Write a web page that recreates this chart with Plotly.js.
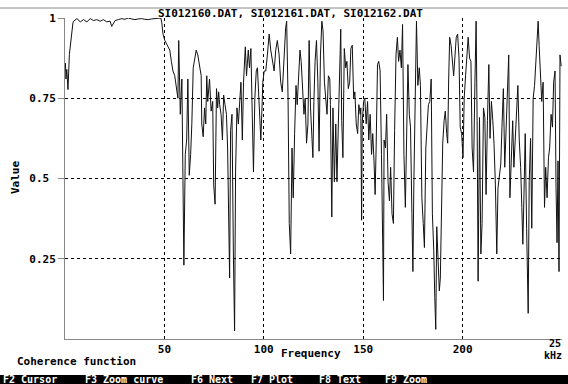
<!DOCTYPE html>
<html>
<head>
<meta charset="utf-8">
<script src="https://cdn.plot.ly/plotly-3.0.1.min.js"></script>
<style>html,body{margin:0;padding:0;background:#fff}#chart{width:568px;height:384px}</style>
</head>
<body>
<div id="chart"></div>
<script>
// Frequency (x) and coherence (y), split by 50-unit segments
const freqA = [0.2,0.5,0.9,1.5,2.2,3.2,4.0,4.3,6.0,7.7,9.3,11.0,12.7,14.3,16.0,17.7,19.3,21.0,22.7,23.5,25.2,26.8,28.5,30.2,31.8,33.5,35.2,36.8,38.5,40.2,41.8,43.5,45.2,46.8,48.2,48.7,49.3];
const cohA  = [0.86,0.81,0.84,0.777,0.886,0.95,0.985,0.99,0.998,0.988,0.995,0.988,0.998,0.992,0.995,0.99,0.995,0.988,0.99,0.974,0.992,0.995,0.998,0.996,1.0,0.997,0.995,0.997,0.998,0.996,0.995,0.997,0.998,0.997,1.0,0.985,0.95];

const freqB = [50.2,51,52.7,53.5,54.3,55.2,56,56.8,57.2,58,58.8,59.3,59.8,60.5,61.2,61.8,62.5,63.2,63.8,64.5,65.2,66,66.8,67.7,68.5,68.8,69.5,70.2,70.8,71.3,71.8,72.7,73.5,74.3,74.8,75.5,76.2,76.8,77.3,77.8,78.5,79.2,79.8,80.5,81.2,81.8,82.3,82.8,83.3,84,84.7,85.3,85.8,86.5,87.2,87.8,88.5,89.2,89.8,90.7,91.3,92.2,92.8,93.5,94.2,94.8,95.5,96.2,96.8,97.7,98.5,99.2];
const cohB  = [0.93,0.92,0.90,0.865,0.835,0.82,0.78,0.75,0.93,0.70,0.81,0.45,0.23,0.575,0.62,0.81,0.51,0.575,0.67,0.845,0.875,0.90,0.885,0.855,0.82,0.67,0.63,0.72,0.67,0.82,0.74,0.81,0.71,0.74,0.48,0.42,0.78,0.72,0.77,0.73,0.70,0.62,0.76,0.73,0.70,0.595,0.41,0.19,0.65,0.70,0.265,0.025,0.52,0.72,0.67,0.72,0.80,0.62,0.80,0.91,0.82,0.90,0.845,0.905,0.69,0.52,0.75,0.835,0.845,0.70,0.62,0.74];

const freqC = [99.5,100.2,101,101.8,102.7,103.5,104.3,105.2,106,106.8,107.7,108.5,109.3,110.2,111,111.5,112.2,112.8,113.5,114.2,114.8,115.5,116.2,116.8,117.5,118.2,118.8,119.5,120.2,120.8,121.5,122.2,122.8,123.5,124.2,124.7,125.2,125.8,126.5,127.2,127.8,128.5,129.2,129.8,130.5,131.2,131.8,132.5,133.2,133.5,134.2,134.8,135.5,136.2,136.8,137.5,138.2,138.7,139.2,139.8,140.5,141.2,141.8,142.5,143.2,143.8,144.5,145.2,145.8,146.5,147.2,147.8,148.5,148.8,149.2];
const cohC  = [0.80,0.835,0.835,0.885,0.95,0.90,0.865,0.835,0.90,0.93,0.885,0.80,0.77,0.885,0.97,0.99,0.75,0.36,0.265,0.595,0.44,0.64,0.79,0.73,0.835,0.90,0.865,0.77,0.70,0.75,0.61,0.67,0.93,0.72,0.62,0.565,0.74,0.865,0.93,0.80,0.585,0.885,0.99,0.96,0.80,0.75,0.70,0.82,0.81,0.73,0.38,0.72,0.49,0.67,0.49,0.67,0.92,0.965,0.68,0.565,0.905,0.845,0.865,0.78,0.80,0.905,0.915,0.75,0.77,0.67,0.64,0.73,0.70,0.72,0.37];

const freqD = [149.5,150.2,150.8,151.5,152.2,152.8,153.5,154.2,154.8,155.5,156,156.5,157.2,157.8,158.5,159.2,159.7,160.2,160.5,161.2,161.8,162.5,163.2,163.8,164.5,165.2,165.8,166.5,167.2,167.8,168.5,169.2,169.8,170.5,171.2,171.8,172.5,173.2,173.8,174.5,175,175.5,176.2,176.8,177.5,178.2,178.8,179.5,180.2,180.8,181.5,182.2,182.8,183.5,184.2,184.8,185.5,186,186.5,187,187.7,188.3,188.8,189.3,190,190.7,191.3,192,192.5,193,193.5,194.2,194.8,195.5,196.2,196.8,197.5,198.2,198.8];
const cohD  = [0.67,0.74,0.75,0.67,0.74,0.62,0.70,0.575,0.64,0.545,0.45,0.595,0.855,0.865,0.835,0.575,0.22,0.12,0.62,0.595,0.70,0.49,0.43,0.535,0.39,0.36,0.65,0.885,0.94,0.865,0.90,0.845,0.98,0.575,0.41,0.62,0.855,0.70,0.66,0.39,0.21,0.49,0.835,0.99,0.79,0.845,0.79,0.44,0.36,0.285,0.595,0.69,0.73,0.74,0.81,0.39,0.275,0.13,0.03,0.35,0.22,0.15,0.19,0.41,0.61,0.68,0.71,0.64,0.61,0.81,0.94,0.915,0.855,0.82,0.885,0.94,0.95,0.875,0.66];

const freqE = [199.5,200.2,200.8,201.5,202.2,202.8,203.5,204.2,204.8,205.5,206.2,206.8,207.3,207.8,208.5,209.2,209.8,210.5,211.2,211.8,212.5,213.2,213.8,214.5,215.2,215.8,216.5,217.2,217.8,218.5,219.2,219.8,220.5,221.2,221.8,222.5,223.2,223.8,224.5,225.2,225.8,226.5,227.2,227.8,228.5,229.2,229.8,230.3,230.8,231.5,232.2,232.7,233,233.5,234.2,234.8,235.5,236.2,236.8,237.5,238,238.5,239.2,239.8,240.5,241.2,241.8,242.5,243.2,243.8,244.5,245.2,245.8,246.5,247,247.5,248,248.5,249,249.6];
const cohE  = [0.64,0.565,0.75,0.82,0.875,0.94,0.875,0.865,0.595,0.52,0.80,0.99,0.68,0.18,0.69,0.265,0.36,0.72,0.69,0.45,0.68,0.855,0.625,0.74,0.68,0.61,0.48,0.265,0.47,0.50,0.545,0.66,0.78,0.535,0.65,0.76,0.885,0.44,0.595,0.68,0.535,0.62,0.72,0.79,0.62,0.535,0.41,0.295,0.43,0.64,0.345,0.12,0.08,0.49,0.625,0.345,0.75,0.79,0.865,0.96,0.99,0.915,0.82,0.74,0.80,0.41,0.535,0.44,0.565,0.595,0.70,0.66,0.80,0.835,0.47,0.30,0.555,0.21,0.885,0.85];

const yTickVals = [0.25, 0.5, 0.75, 1];
const yTickText = ['0.25', '0.5\u00a0', '0.75', '1'];
const xTickVals = [50, 100, 150, 200, 250];
const xTickText = ['50', '100', '150', '200', '25'];
const titleText = 'SI012160.DAT, SI012161.DAT, SI012162.DAT';
const keyLabels = ['F2 Cursor', 'F3 Zoom curve', 'F6 Next', 'F7 Plot', 'F8 Text', 'F9 Zoom'];
const keyPos = [2, 84, 190, 250, 318, 384];

const freq = [].concat(freqA, freqB, freqC, freqD, freqE);
const coh = [].concat(cohA, cohB, cohC, cohD, cohE);

const W = 568, H = 384, L = 65, R = 6, T = 18, B = 45;
const pw = W - L - R, ph = H - T - B;
const px = x => (x - L) / pw;
const py = y => (H - B - y) / ph;

const FONT = {family: 'DejaVu Sans Mono', size: 11, color: '#000', weight: 'bold'};
const SMALLFONT = {family: 'DejaVu Sans Mono', size: 10, color: '#000', weight: 'bold'};
const KEYFONT = {family: 'DejaVu Sans Mono', size: 10, color: '#fff', weight: 'bold'};

const annotations = [
  {text: titleText, x: px(290), y: py(13), xref: 'paper', yref: 'paper', xanchor: 'center', yanchor: 'middle', showarrow: false, font: FONT},
  {text: 'Frequency', x: px(311), y: py(353), xref: 'paper', yref: 'paper', xanchor: 'center', yanchor: 'middle', showarrow: false, font: FONT},
  {text: 'kHz', x: px(553), y: py(356), xref: 'paper', yref: 'paper', xanchor: 'center', yanchor: 'middle', showarrow: false, font: SMALLFONT, borderpad: 0},
  {text: xTickText[4], x: xTickVals[4], xref: 'x', y: py(343.5), yref: 'paper', xanchor: 'right', yanchor: 'middle', showarrow: false, font: SMALLFONT, borderpad: 0},
  {text: 'Value', x: px(15), y: py(178), xref: 'paper', yref: 'paper', xanchor: 'center', yanchor: 'middle', textangle: -90, showarrow: false, font: FONT},
  {text: 'Coherence function', x: px(15), y: py(362), xref: 'paper', yref: 'paper', xanchor: 'left', yanchor: 'middle', showarrow: false, font: FONT}
];
keyLabels.forEach((k, i) => annotations.push({
  text: k, x: px(keyPos[i]), y: py(379.5), xref: 'paper', yref: 'paper', xanchor: 'left', yanchor: 'middle',
  showarrow: false, font: KEYFONT, borderpad: 0
}));

const layout = {
  width: W, height: H,
  margin: {l: L, r: R, t: T, b: B, pad: 0},
  paper_bgcolor: '#fff', plot_bgcolor: '#fff',
  showlegend: false,
  xaxis: {
    range: [0, 250], tickvals: xTickVals, ticktext: xTickText.slice(0, 4).concat(['']),
    ticks: '', showgrid: true, gridcolor: '#000', griddash: 'dot', gridwidth: 1,
    zeroline: false, showline: true, linecolor: '#888', linewidth: 1,
    tickfont: FONT, fixedrange: true
  },
  yaxis: {
    range: [0, 1], tickvals: yTickVals, ticktext: yTickText,
    ticks: 'outside', ticklen: 6, tickcolor: '#888', tickwidth: 1,
    showgrid: true, gridcolor: '#000', griddash: 'dot', gridwidth: 1,
    zeroline: false, showline: true, linecolor: '#888', linewidth: 1,
    tickfont: FONT, fixedrange: true
  },
  shapes: [
    {type: 'line', xref: 'paper', yref: 'paper', x0: px(0), x1: px(W), y0: py(8), y1: py(8), line: {color: '#888', width: 1}},
    {type: 'rect', xref: 'paper', yref: 'paper', x0: px(0), x1: px(W), y0: py(375), y1: py(390), fillcolor: '#000', line: {width: 0}, layer: 'below'}
  ],
  annotations: annotations
};

Plotly.newPlot('chart', [{
  x: freq, y: coh, type: 'scatter', mode: 'lines',
  line: {color: '#111', width: 1}, hoverinfo: 'skip'
}], layout, {staticPlot: true, displayModeBar: false});
</script>
</body>
</html>
